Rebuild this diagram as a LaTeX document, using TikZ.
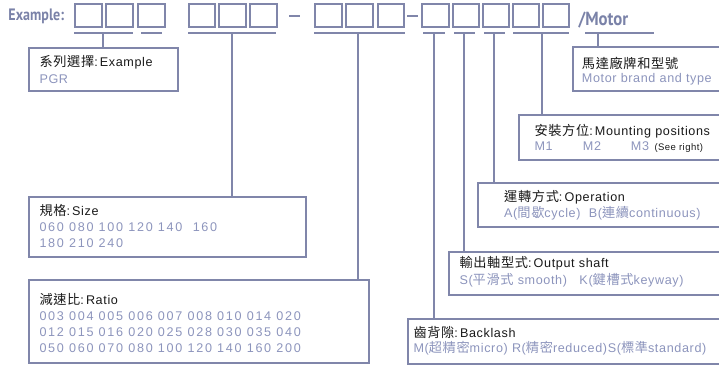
\documentclass[tikz,border=0pt]{standalone}
\usepackage{fontspec}
\setmainfont{Liberation Sans}[LetterSpace=5]
\newfontfamily\cjk{Noto Sans CJK TC}[LetterSpace=5]
\newfontfamily\numfont{Liberation Sans}[LetterSpace=13.5]
\newfontfamily\headfont{PT Sans}[FakeStretch=0.85]
\newfontfamily\motorfont{PT Sans}[FakeStretch=0.88]
\definecolor{lnc}{RGB}{128,134,170}
\definecolor{subc}{RGB}{140,148,188}
\definecolor{headc}{RGB}{122,130,168}
\definecolor{txc}{RGB}{25,25,25}
\newcommand{\cj}[1]{{\cjk\fontsize{13.2}{14}\selectfont #1}}
\begin{document}
\begin{tikzpicture}[x=1pt,y=-1pt,
  ln/.style={draw=lnc, line width=2pt},
  box/.style={ln, rectangle, inner sep=0pt, outer sep=0pt, anchor=north west},
  txt/.style={anchor=base west, inner sep=0pt, text=txc, font=\fontsize{12.6}{14}\selectfont},
  sub/.style={txt, text=subc},
  nums/.style={txt, text=subc, font=\numfont\fontsize{12.6}{14}\selectfont},
  small/.style={txt, font=\fontsize{9.5}{11}\selectfont}]
\clip (0,0) rectangle (719,367);
% headings
\node[anchor=base west, inner sep=0pt, text=headc, font=\headfont\bfseries\fontsize{16.5}{18}\selectfont] (hex) at (8.3,20) {Example:};
\node[anchor=base west, inner sep=0pt, text=headc, font=\motorfont\bfseries\fontsize{19}{20}\selectfont] (hmot) at (578.3,25) {/Motor};
% code squares
\foreach \i/\x in {1/75,2/106,3/138.3,4/188.7,5/219.3,6/250,7/315,8/346,9/377.7,10/422,11/452.7,12/482.7,13/512.7,14/542.7}
  \node[box, minimum width=26.5pt, minimum height=23.6pt] (s\i) at (\x,3.7) {};
% dashes
\coordinate (d1a) at (289,15.7); \coordinate (d1b) at (300,15.7);
\coordinate (d2a) at (407,15.7); \coordinate (d2b) at (418,15.7);
\draw[ln] (d1a) -- (d1b);
\draw[ln] (d2a) -- (d2b);
% description boxes
\node[box, minimum width=149.3pt, minimum height=43.6pt] (bex) at (28.7,47.7) {};
\node[box, minimum width=277pt, minimum height=60.6pt] (bsz) at (28.7,196.7) {};
\node[box, minimum width=340.3pt, minimum height=82.7pt] (brt) at (28.7,280.3) {};
\node[box, minimum width=322.3pt, minimum height=44.7pt] (bbl) at (407.7,319.3) {};
\node[box, minimum width=280.7pt, minimum height=43.3pt] (bos) at (449.3,251.7) {};
\node[box, minimum width=251.7pt, minimum height=44.6pt] (bop) at (478.3,182.7) {};
\node[box, minimum width=211.3pt, minimum height=44.7pt] (bmp) at (518.7,115) {};
\node[box, minimum width=157.3pt, minimum height=44.6pt] (bmo) at (572.7,46.7) {};
% underlines
\foreach \n/\a/\b in {1/74/132.7,2/141/161.7,3/188/276,4/314/405,5/423.3/445,6/454/475,7/484/505,8/513/569.3,9/585/654}{
  \coordinate (u\n a) at (\a,33.3); \coordinate (u\n b) at (\b,33.3);
  \draw[ln] (u\n a) -- (u\n b);
}
% ticks
\coordinate (t1) at (103.3,33.3);
\coordinate (t3) at (231.7,33.3);
\coordinate (t4) at (358.3,33.3);
\coordinate (t5) at (434.3,33.3);
\coordinate (t6) at (464,33.3);
\coordinate (t7) at (494,33.3);
\coordinate (t8) at (541.7,33.3);
\coordinate (t9) at (597.7,33.3);
\draw[ln] (t1) -- (t1 |- bex.north);
\draw[ln] (t3) -- (t3 |- bsz.north);
\draw[ln] (t4) -- (t4 |- brt.north);
\draw[ln] (t5) -- (t5 |- bbl.north);
\draw[ln] (t6) -- (t6 |- bos.north);
\draw[ln] (t7) -- (t7 |- bop.north);
\draw[ln] (t8) -- (t8 |- bmp.north);
\draw[ln] (t9) -- (t9 |- bmo.north);
% texts
\node[txt] (ex1) at (39.3,66.7) {\cj{系列選擇}:\,Example};
\node[sub] (ex2) at (39.3,83.3) {PGR};
\node[txt] (sz1) at (39.3,215.7) {\cj{規格}:\,Size};
\node[nums] (sz2) at (39.3,231.7) {060 080 100 120 140 \ 160};
\node[nums] (sz3) at (39.3,247.7) {180 210 240};
\node[txt] (rt1) at (39.3,304.3) {\cj{減速比}:\,Ratio};
\node[nums] (rt2) at (39.3,320.3) {003 004 005 006 007 008 010 014 020};
\node[nums] (rt3) at (39.3,336.5) {012 015 016 020 025 028 030 035 040};
\node[nums] (rt4) at (39.3,352.7) {050 060 070 080 100 120 140 160 200};
\node[txt] (bl1) at (413.3,337.3) {\cj{齒背隙}:\,Backlash};
\node[sub] (bl2) at (413.3,352.7) {M(\cj{超精密}micro) R(\cj{精密}reduced)S(\cj{標準}standard)};
\node[txt] (os1) at (459.3,267.7) {\cj{輸出軸型式}:\,Output shaft};
\node[sub] (os2) at (459.3,284.3) {S(\cj{平滑式}\ smooth)\ \ \ K(\cj{鍵槽式}keyway)};
\node[txt] (op1) at (504,201.7) {\cj{運轉方式}:\,Operation};
\node[sub] (op2) at (504,217.7) {A(\cj{間歇}cycle) \ B(\cj{連續}continuous)};
\node[txt] (mp1) at (534.3,135.7) {\cj{安裝方位}:\,Mounting positions};
\node[sub] (mpa) at (534.3,150) {M1};
\node[sub] (mpb) at (582.7,150) {M2};
\node[sub] (mpc) at (630.7,150) {M3};
\node[small] (mpd) at (654.3,150) {(See right)};
\node[txt] (mo1) at (581.7,68.3) {\cj{馬達廠牌和型號}};
\node[sub] (mo2) at (581.7,82.7) {Motor brand and type};
\end{tikzpicture}
\end{document}
